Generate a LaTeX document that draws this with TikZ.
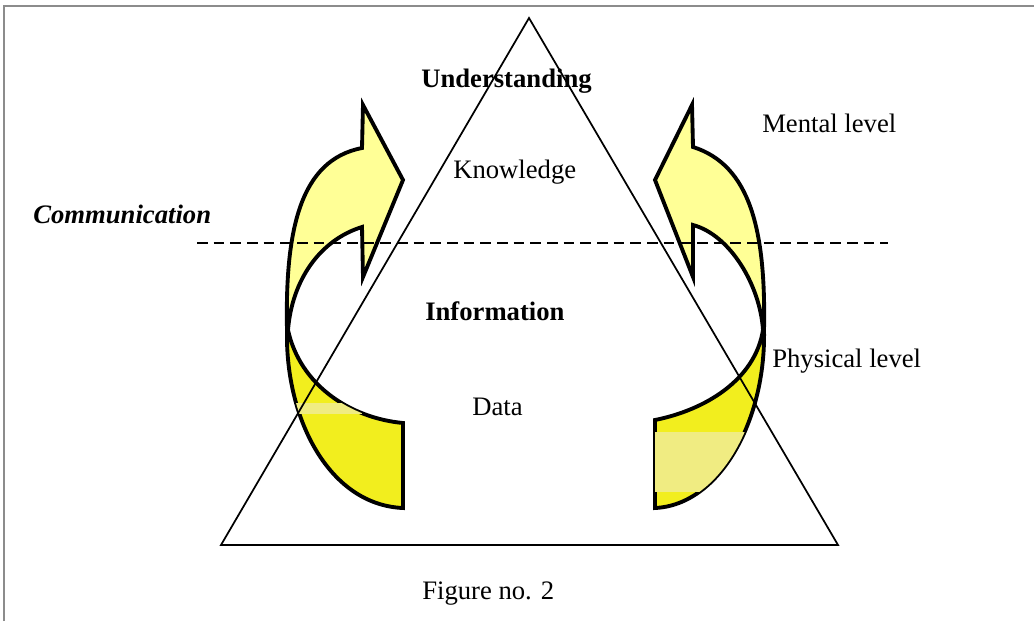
\documentclass[tikz,border=0pt]{standalone}
\usepackage{fontspec}
\setmainfont{Liberation Serif}
\definecolor{paleyellow}{RGB}{255,255,150}
\definecolor{deepyellow}{RGB}{242,238,30}
\definecolor{stripyellow}{RGB}{240,236,130}
\definecolor{framegray}{RGB}{140,140,140}

\begin{document}
\begin{tikzpicture}[x=0.75pt,y=-0.75pt,
     txt/.style = {inner sep=0pt, anchor=base west, font=\fontsize{20}{24}\selectfont},
     boldtxt/.style = {txt, font=\fontsize{20}{24}\selectfont\bfseries},
     band/.style = {draw=black, line width=2.9pt, line join=miter},
     edge/.style = {draw, line width=1.3pt, line join=miter},
     level/.style = {draw, line width=1.2pt, dash pattern=on 8pt off 4.5pt}
    ]
    \useasboundingbox (0,0) rectangle (1034,621);
    % frame
    \draw[framegray, line width=1.5pt] (4,621) -- (4,6) -- (1034,6);

    % left curved arrow
    \path[band, fill=deepyellow] (287,330) .. controls (285,420) and (330,505) .. (403,508)
        -- (403,423) .. controls (350,418) and (300,385) .. (288,330);
    \begin{scope}
      \clip (287,330) .. controls (285,420) and (330,505) .. (403,508)
        -- (403,423) .. controls (350,418) and (300,385) .. (288,330);
      \fill[stripyellow] (290,403) rectangle (362,414);
    \end{scope}
    \path[band, fill=paleyellow] (287,330) .. controls (285,230) and (300,160) .. (362,148)
        -- (363,105) -- (403,180) -- (363,277) -- (362,227)
        .. controls (320,240) and (292,280) .. (288,330) -- cycle;

    % right curved arrow
    \path[band, fill=deepyellow] (764,330) .. controls (766,420) and (720,505) .. (655,508)
        -- (655,420) .. controls (705,410) and (755,380) .. (763,330);
    \begin{scope}
      \clip (764,330) .. controls (766,420) and (720,505) .. (655,508)
        -- (655,420) .. controls (705,410) and (755,380) .. (763,330);
      \fill[stripyellow] (650,432) rectangle (748,492);
    \end{scope}
    \path[band, fill=paleyellow] (764,330) .. controls (766,230) and (750,165) .. (693,147)
        -- (692,105) -- (655,180) -- (693,277) -- (693,225)
        .. controls (730,235) and (760,285) .. (763,330) -- cycle;

    % pyramid and level line
    \coordinate (apex) at (529,18);
    \coordinate (baseL) at (221,545);
    \coordinate (baseR) at (838,545);
    \draw[edge] (apex) -- (baseL) -- (baseR) -- cycle;
    \coordinate (lineL) at (197,243);
    \coordinate (lineR) at (888,243);
    \draw[level] (lineL) -- (lineR);

    % labels
    \node [boldtxt] (understanding) at (421,87) {Understanding};
    \node [txt] (knowledge) at (453,178) {Knowledge};
    \node [txt, font=\fontsize{20}{24}\selectfont\bfseries\itshape] (communication) at (33,223) {Communication};
    \node [txt] (mental) at (762,132) {Mental level};
    \node [boldtxt] (information) at (425,320) {Information};
    \node [txt] (physical) at (772,367) {Physical level};
    \node [txt] (data) at (472,415) {Data};
    \node [txt] (caption) at (422,599) {Figure no. 2};
\end{tikzpicture}
\end{document}
